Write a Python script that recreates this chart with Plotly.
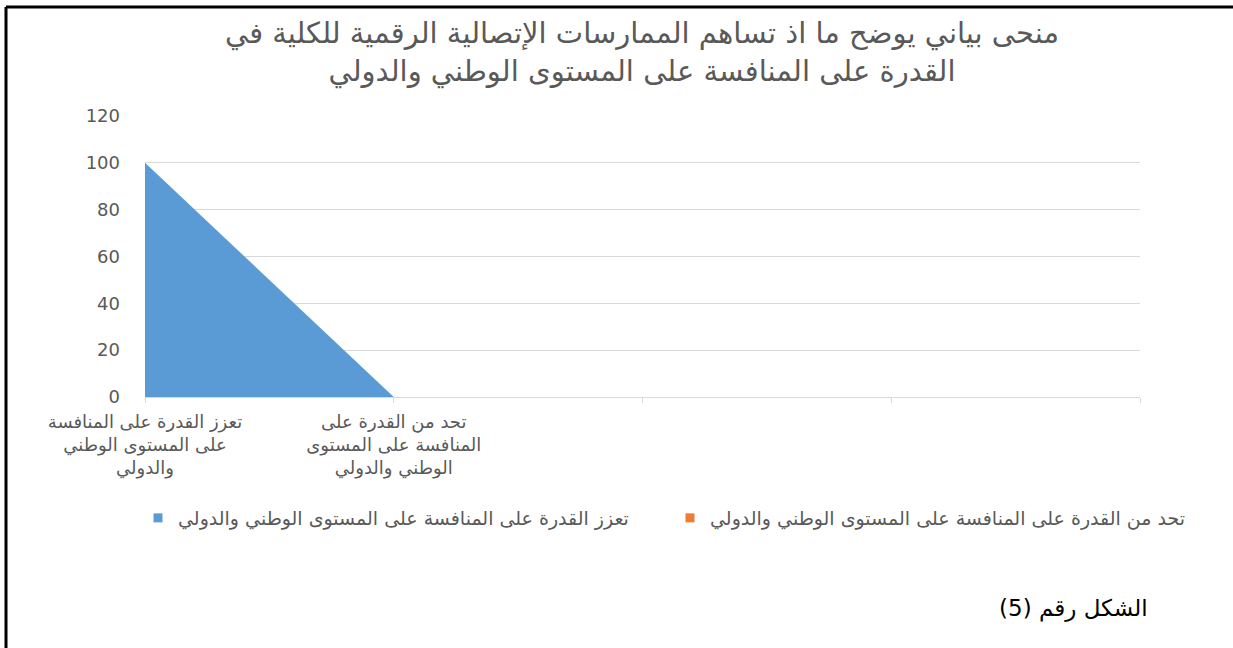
import plotly.graph_objects as go

# ---- data ----
categories = [
    "تعزز القدرة على المنافسة<br>على المستوى الوطني<br>والدولي",
    "تحد من القدرة على<br>المنافسة على المستوى<br>الوطني والدولي",
    "", "", "",
]
series_names = [
    "تعزز القدرة على المنافسة على المستوى الوطني والدولي",
    "تحد من القدرة على المنافسة على المستوى الوطني والدولي",
]
series_blue = [100, 0, None, None, None]
series_orange = [0, 0, None, None, None]
y_ticks = [0, 20, 40, 60, 80, 100, 120]
title_text = "منحى بياني يوضح ما اذ تساهم الممارسات الإتصالية الرقمية للكلية في<br>القدرة على المنافسة على المستوى الوطني والدولي"
caption = "الشكل رقم (5)"

colors = ["#5b9bd5", "#ed7d31"]
x_idx = list(range(len(categories)))

W, H = 1233, 648
PL, PR, PT, PB = 145, 1140, 116, 397
pw, ph = PR - PL, PB - PT

fig = go.Figure()

fig.add_trace(go.Scatter(x=x_idx, y=series_blue, mode="lines", fill="tozeroy",
                         fillcolor=colors[0], line=dict(width=0, color=colors[0]),
                         showlegend=False, hoverinfo="skip"))
fig.add_trace(go.Scatter(x=x_idx, y=series_orange, mode="lines", fill="tozeroy",
                         fillcolor=colors[1], line=dict(width=0, color=colors[1]),
                         showlegend=False, hoverinfo="skip"))
# legend entries (square markers like the original), one legend box each
for name, c, lg in zip(series_names, colors, ["legend", "legend2"]):
    fig.add_trace(go.Scatter(x=[None], y=[None], mode="markers", name=name, legend=lg,
                             marker=dict(symbol="square", size=9, color=c)))

legend_common = dict(orientation="h", xref="container", yref="container",
                     y=1 - 518 / H, yanchor="middle",
                     font=dict(size=19, color="#595959", family="DejaVu Sans"),
                     itemwidth=30, bgcolor="rgba(0,0,0,0)")

fig.update_layout(
    width=W, height=H,
    margin=dict(l=PL, r=W - PR, t=PT, b=H - PB),
    paper_bgcolor="white", plot_bgcolor="white",
    font=dict(family="DejaVu Sans", color="#595959"),
    title=dict(text=title_text, x=642 / W, xanchor="center", xref="container",
               y=1 - 43 / H, yanchor="middle", yref="container",
               font=dict(size=29, color="#595959", family="DejaVu Sans")),
    xaxis=dict(range=[0, 4], tickmode="array", tickvals=x_idx, ticktext=categories,
               showgrid=False, zeroline=False, showline=True, linecolor="#d9d9d9",
               linewidth=1, ticks="outside", ticklen=5, tickcolor="#d9d9d9",
               ticklabelstandoff=3,
               tickfont=dict(size=18, color="#595959"), fixedrange=True),
    yaxis=dict(range=[0, 120], tickvals=y_ticks, showgrid=True, gridcolor="#d9d9d9",
               gridwidth=1, zeroline=False, showline=False, ticks="",
               tickfont=dict(size=18, color="#595959"), ticklabelstandoff=24,
               fixedrange=True),
    legend=dict(legend_common, x=138 / W, xanchor="left"),
    legend2=dict(legend_common, x=1190 / W, xanchor="right"),
    showlegend=True,
)

fig.add_annotation(text=caption, xref="paper", yref="paper",
                   x=(1150 - PL) / pw, y=-(608 - PB) / ph,
                   xanchor="right", yanchor="middle", showarrow=False,
                   font=dict(size=23, color="black", family="DejaVu Sans"))

# frame lines (top and left) of the figure box
fig.add_shape(type="line", xref="paper", yref="paper",
              x0=-(PL - 6) / pw, x1=(W - PL) / pw, y0=(PB - 7) / ph, y1=(PB - 7) / ph,
              line=dict(color="black", width=3))
fig.add_shape(type="line", xref="paper", yref="paper",
              x0=-(PL - 6) / pw, x1=-(PL - 6) / pw, y0=(PB - 7) / ph, y1=-(H - PB) / ph,
              line=dict(color="black", width=3))

fig.write_html("out.html", config={"displayModeBar": False},
               post_script="document.body.style.margin='0';document.body.style.overflow='hidden';")
